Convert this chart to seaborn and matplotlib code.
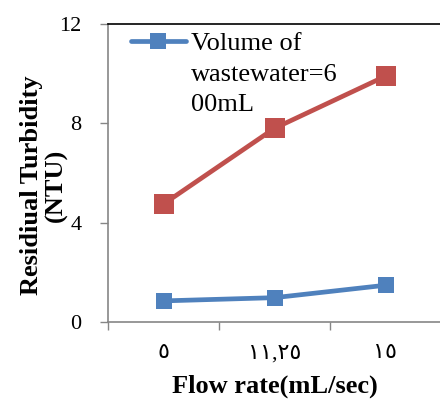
import numpy as np
import pandas as pd
import matplotlib
matplotlib.use("Agg")
import matplotlib.pyplot as plt
import seaborn as sns

# flow rate categories (arabic-indic digits as in the source)
flow_labels = ["٥", "١١,٢٥", "١٥"]

# residual turbidity (NTU)
turbidity_red = [4.75, 7.8, 9.9]
turbidity_blue = [0.85, 0.98, 1.48]

legend_label = "Volume of\nwastewater=6\n00mL"
y_ticks = [0, 4, 8, 12]

sns.set_style("white")
plt.rcParams["font.family"] = ["Liberation Serif", "DejaVu Sans"]
plt.rcParams["text.color"] = "black"
plt.rcParams["axes.labelcolor"] = "black"

df_red = pd.DataFrame({"x": np.arange(3), "y": turbidity_red})
df_blue = pd.DataFrame({"x": np.arange(3), "y": turbidity_blue})

fig = plt.figure(figsize=(4.4, 4.05), dpi=100)
ax = fig.add_axes([108 / 440, 1 - 322 / 405, 333 / 440, 298 / 405])

sns.lineplot(data=df_red, x="x", y="y", ax=ax, color="#C0504D", linewidth=3.4,
             marker="s", markersize=14, markeredgewidth=0, label="_nolegend_")
sns.lineplot(data=df_blue, x="x", y="y", ax=ax, color="#4F81BD", linewidth=3.4,
             marker="s", markersize=11, markeredgewidth=0, label=legend_label)

ax.set_xlim(-0.5, 2.5)
ax.set_ylim(0, 12)

# category boundaries get the tick marks, centers get the labels
ax.set_xticks([-0.5, 0.5, 1.5, 2.5])
ax.set_xticklabels([])
ax.set_xticks([0, 1, 2], minor=True)
ax.set_xticklabels(flow_labels, minor=True, fontsize=16,
                   family=["Liberation Serif", "DejaVu Sans"])
ax.tick_params(axis="x", which="major", direction="out", length=6,
               width=1, color="#868686", bottom=True)
ax.tick_params(axis="x", which="minor", length=0, pad=16, labelcolor="black")

ax.set_yticks(y_ticks)
ax.set_yticklabels([str(v) for v in y_ticks], fontsize=16)
ax.tick_params(axis="y", direction="out", length=6, width=1,
               color="#868686", left=True, pad=13, labelcolor="black")

for side in ["left", "bottom"]:
    ax.spines[side].set_color("#868686")
    ax.spines[side].set_linewidth(1.2)
ax.spines["top"].set_color("black")
ax.spines["top"].set_linewidth(1.2)
ax.spines["right"].set_visible(False)

ax.set_xlabel("Flow rate(mL/sec)", fontsize=19, fontweight="bold", labelpad=8)
ax.set_ylabel("Residiual Turbidity\n(NTU)", fontsize=19, fontweight="bold",
              linespacing=1.1)
ax.yaxis.set_label_coords(-0.12, 0.46)

leg = ax.legend(loc="upper left", bbox_to_anchor=(0.06, 0.977), frameon=False,
                fontsize=19, handlelength=2.1, handletextpad=0.2,
                borderaxespad=0, borderpad=0.1, labelspacing=0)
for t in leg.get_texts():
    t.set_linespacing(1.5)
# move the legend handle up to the first line of the label
h = leg.legend_handles[0]
h.set_ydata(np.asarray(h.get_ydata()) + 24)

fig.savefig("out.png", dpi=100)
